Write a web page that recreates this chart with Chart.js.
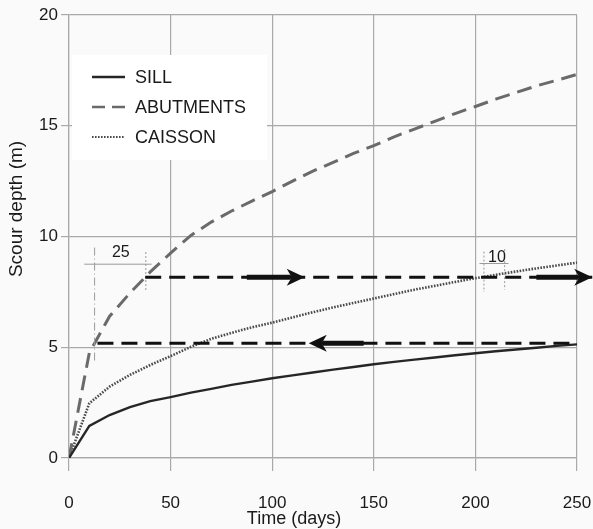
<!DOCTYPE html>
<html>
<head>
<meta charset="utf-8">
<script src="https://cdn.jsdelivr.net/npm/chart.js@4.4.1/dist/chart.umd.min.js"></script>
<style>
  html, body { margin: 0; padding: 0; background: #fafafa; }
  #wrap { width: 593px; height: 529px; position: relative; }
</style>
</head>
<body>
<div id="wrap"><canvas id="scourChart"></canvas></div>
<script>
// time steps (days) and scour depth (m) for each foundation type
const days = [0, 10, 20, 30, 40, 50, 60, 70, 80, 90, 100, 110, 120, 130, 140, 150,
              160, 170, 180, 190, 200, 210, 220, 230, 240, 250];
const sill = [0, 1.45, 1.94, 2.3, 2.57, 2.75, 2.95, 3.12, 3.3, 3.45, 3.6, 3.73, 3.86, 3.99,
              4.11, 4.23, 4.34, 4.44, 4.54, 4.64, 4.73, 4.82, 4.9, 4.98, 5.06, 5.13];
const abutments = [0, 4.75, 6.4, 7.45, 8.4, 9.25, 10.05, 10.65, 11.15, 11.6, 12.03, 12.5,
                   12.95, 13.35, 13.75, 14.1, 14.5, 14.85, 15.2, 15.55, 15.87, 16.2, 16.5,
                   16.8, 17.05, 17.32];
const caisson = [0, 2.47, 3.22, 3.75, 4.2, 4.6, 5.02, 5.38, 5.65, 5.9, 6.11, 6.35, 6.58,
                 6.8, 7.0, 7.2, 7.4, 7.6, 7.77, 7.95, 8.12, 8.27, 8.42, 8.56, 8.69, 8.82];
const seriesNames = ['SILL', 'ABUTMENTS', 'CAISSON'];
const xTicks = [0, 50, 100, 150, 200, 250];
const yTicks = [0, 5, 10, 15, 20];

// reference levels with arrows, and the two time spans marked on them
const levelLines = [
  { y: 8.16, from: 37.5, to: 257.5 },
  { y: 5.18, from: 14, to: 250 }
];
const arrows = [
  { y: 8.16, tail: 87.5, tip: 116 },
  { y: 8.16, tail: 230, tip: 257.5 },
  { y: 5.18, tail: 145, tip: 118 }
];
const spans = [
  { label: '25', y: 8.75, x0: 7.5, x1: 40.7, textX: 25.5, textY: 9.27,
    marks: [{ x: 12.6, y0: 9.5, y1: 4.4, dash: [8, 3, 1, 3] }, { x: 37.8, y0: 9.3, y1: 7.5, dash: [2, 2] }] },
  { label: '10', y: 8.78, x0: 202, x1: 216.3, textX: 210.6, textY: 9.03,
    marks: [{ x: 204.2, y0: 9.32, y1: 7.5, dash: [2, 2] }, { x: 214.4, y0: 9.43, y1: 7.6, dash: [2, 2] }] }
];

const FONT = "'Liberation Sans', Arial, sans-serif";
const GRID = '#a9a9a9';

const styles = [
  { color: '#262626', width: 2.4, dash: [] },
  { color: '#6a6a6a', width: 3, dash: [15, 8] },
  { color: '#4a4a4a', width: 2.6, dash: [1.6, 1.4] }
];

function toPoints(values) {
  return days.map((d, i) => ({ x: d, y: values[i] }));
}

const datasets = [sill, abutments, caisson].map((values, i) => ({
  label: seriesNames[i],
  data: toPoints(values),
  borderColor: styles[i].color,
  borderWidth: styles[i].width,
  borderDash: styles[i].dash,
  pointRadius: 0,
  tension: 0,
  fill: false
}));

function arrowHead(ctx, tipX, y, dir) {
  const len = 18, half = 8.5, notch = 5;
  ctx.beginPath();
  ctx.moveTo(tipX, y);
  ctx.lineTo(tipX - dir * len, y - half);
  ctx.lineTo(tipX - dir * (len - notch), y);
  ctx.lineTo(tipX - dir * len, y + half);
  ctx.closePath();
  ctx.fill();
}

const backgroundPlugin = {
  id: 'background',
  beforeDraw(chart) {
    const ctx = chart.ctx;
    ctx.save();
    ctx.fillStyle = '#fafafa';
    ctx.fillRect(0, 0, chart.width, chart.height);
    ctx.restore();
  }
};

// legend box sits inside the plot, on top of the grid
const legendPlugin = {
  id: 'boxLegend',
  beforeDatasetsDraw(chart) {
    const ctx = chart.ctx;
    const area = chart.chartArea;
    const left = area.left + 3, top = area.top + 40;
    ctx.save();
    ctx.fillStyle = '#ffffff';
    ctx.fillRect(left, top, 195, 105);
    ctx.font = '18px ' + FONT;
    ctx.textBaseline = 'middle';
    ctx.textAlign = 'left';
    seriesNames.forEach((name, i) => {
      const y = top + 22 + i * 30;
      const s = styles[i];
      ctx.strokeStyle = s.color;
      ctx.lineWidth = i === 2 ? 2.2 : 2.4;
      ctx.setLineDash(i === 1 ? [13, 7] : s.dash);
      ctx.beginPath();
      ctx.moveTo(left + 20, y);
      ctx.lineTo(left + 53, y);
      ctx.stroke();
      ctx.setLineDash([]);
      ctx.fillStyle = '#1a1a1a';
      ctx.fillText(name, left + 63, y + 1);
    });
    ctx.restore();
  }
};

const annotationPlugin = {
  id: 'levels',
  afterDatasetsDraw(chart) {
    const ctx = chart.ctx;
    const xs = chart.scales.x, ys = chart.scales.y;
    ctx.save();

    // thin dimension marks for the time spans
    spans.forEach(s => {
      ctx.strokeStyle = '#9a9a9a';
      ctx.lineWidth = 1;
      ctx.setLineDash([]);
      ctx.beginPath();
      ctx.moveTo(xs.getPixelForValue(s.x0), ys.getPixelForValue(s.y));
      ctx.lineTo(xs.getPixelForValue(s.x1), ys.getPixelForValue(s.y));
      ctx.stroke();
      s.marks.forEach(m => {
        ctx.setLineDash(m.dash);
        ctx.beginPath();
        ctx.moveTo(xs.getPixelForValue(m.x), ys.getPixelForValue(m.y0));
        ctx.lineTo(xs.getPixelForValue(m.x), ys.getPixelForValue(m.y1));
        ctx.stroke();
      });
      ctx.setLineDash([]);
      ctx.fillStyle = '#1a1a1a';
      ctx.font = '16px ' + FONT;
      ctx.textAlign = 'center';
      ctx.textBaseline = 'middle';
      ctx.fillText(s.label, xs.getPixelForValue(s.textX), ys.getPixelForValue(s.textY));
    });

    // dashed level lines
    ctx.strokeStyle = '#111111';
    ctx.lineWidth = 3.2;
    ctx.setLineDash([16, 8]);
    levelLines.forEach(l => {
      const py = ys.getPixelForValue(l.y);
      ctx.beginPath();
      ctx.moveTo(xs.getPixelForValue(l.from), py);
      ctx.lineTo(xs.getPixelForValue(l.to), py);
      ctx.stroke();
    });

    // solid arrows along the levels
    ctx.setLineDash([]);
    ctx.lineWidth = 5;
    ctx.fillStyle = '#111111';
    arrows.forEach(a => {
      const py = ys.getPixelForValue(a.y);
      const tail = xs.getPixelForValue(a.tail);
      const tip = xs.getPixelForValue(a.tip);
      const dir = tip > tail ? 1 : -1;
      ctx.beginPath();
      ctx.moveTo(tail, py);
      ctx.lineTo(tip - dir * 14, py);
      ctx.stroke();
      arrowHead(ctx, tip, py, dir);
    });

    ctx.restore();
  }
};

// axis titles, placed by hand
const titlePlugin = {
  id: 'axisTitles',
  afterDraw(chart) {
    const ctx = chart.ctx;
    ctx.save();
    ctx.fillStyle = '#1a1a1a';
    ctx.textAlign = 'center';
    ctx.textBaseline = 'middle';
    ctx.font = '18px ' + FONT;
    ctx.fillText('Time (days)', 294, 519);
    ctx.font = '19px ' + FONT;
    ctx.translate(17, 209);
    ctx.rotate(-Math.PI / 2);
    ctx.fillText('Scour depth (m)', 0, 0);
    ctx.restore();
  }
};

const ctx = document.getElementById('scourChart').getContext('2d');
const scourChart = new Chart(ctx, {
  type: 'line',
  data: { datasets: datasets },
  options: {
    responsive: true,
    maintainAspectRatio: false,
    animation: false,
    layout: { padding: { top: 15, right: 0, left: 0, bottom: 0 } },
    plugins: {
      legend: { display: false },
      tooltip: { enabled: false }
    },
    scales: {
      x: {
        type: 'linear',
        min: 0,
        max: 250,
        afterBuildTicks: scale => { scale.ticks = xTicks.map(v => ({ value: v })); },
        afterFit: scale => {
          scale.height = 71;
          scale.paddingLeft = 0;
          scale.paddingRight = 16;
        },
        ticks: { color: '#1a1a1a', font: { family: FONT, size: 17 }, padding: 22, maxRotation: 0 },
        grid: { color: GRID, lineWidth: 1.2, tickLength: 13 },
        border: { color: GRID, width: 1.2 }
      },
      y: {
        min: 0,
        max: 20,
        afterBuildTicks: scale => { scale.ticks = yTicks.map(v => ({ value: v })); },
        afterFit: scale => { scale.width = 69; },
        ticks: { color: '#1a1a1a', font: { family: FONT, size: 17 }, padding: 3 },
        grid: { color: GRID, lineWidth: 1.2, tickLength: 8 },
        border: { color: GRID, width: 1.2 }
      }
    }
  },
  plugins: [backgroundPlugin, legendPlugin, annotationPlugin, titlePlugin]
});
</script>
</body>
</html>
